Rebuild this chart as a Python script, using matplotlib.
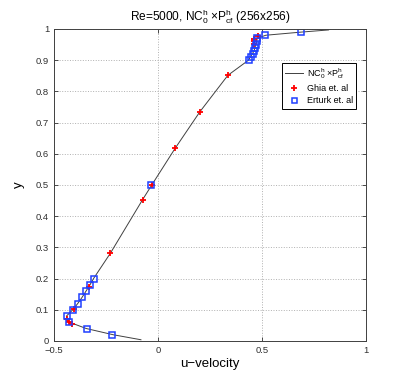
import numpy as np
import matplotlib
matplotlib.use('Agg')
import matplotlib.pyplot as plt

plt.rcParams['font.family'] = ['Liberation Sans', 'DejaVu Sans']
plt.rcParams['mathtext.fontset'] = 'custom'
plt.rcParams['mathtext.rm'] = 'Liberation Sans'
plt.rcParams['mathtext.it'] = 'Liberation Sans'

# present solution (NC0 x Pcf, 256x256)
line_y = [0.004, 0.02, 0.04, 0.06, 0.07, 0.08, 0.10, 0.12, 0.14, 0.16, 0.18, 0.20,
          0.2813, 0.4531, 0.50, 0.6172, 0.7344, 0.8516, 0.90, 0.93, 0.96, 0.97,
          0.98, 0.99, 0.997]
line_u = [-0.082, -0.215, -0.345, -0.425, -0.438, -0.440, -0.410, -0.386, -0.365,
          -0.346, -0.327, -0.310, -0.229, -0.074, -0.030, 0.082, 0.201, 0.336,
          0.435, 0.462, 0.474, 0.477, 0.518, 0.687, 0.82]

# Ghia et al. (Re=5000)
ghia_y = [0.9766, 0.9688, 0.9609, 0.9531, 0.8516, 0.7344, 0.6172, 0.5000, 0.4531,
          0.2813, 0.1719, 0.1016, 0.0703, 0.0625, 0.0547]
ghia_u = [0.48223, 0.46120, 0.45992, 0.46036, 0.33556, 0.20087, 0.08183, -0.03039,
          -0.07404, -0.22855, -0.33050, -0.40435, -0.43643, -0.42901, -0.41165]

# Erturk et al. (Re=5000)
ert_y = [0.99, 0.98, 0.97, 0.96, 0.95, 0.94, 0.93, 0.92, 0.91, 0.90, 0.50,
         0.20, 0.18, 0.16, 0.14, 0.12, 0.10, 0.08, 0.06, 0.04, 0.02]
ert_u = [0.6866, 0.5159, 0.4749, 0.4739, 0.4710, 0.4676, 0.4627, 0.4559, 0.4467,
         0.4351, -0.0319, -0.3096, -0.3255, -0.3441, -0.3642, -0.3857, -0.4103,
         -0.4366, -0.4264, -0.3418, -0.2198]

fig = plt.figure(figsize=(4.07, 3.84), dpi=100)
ax = fig.add_axes([54 / 407, 1 - 341 / 384, 312 / 407, 312 / 384])

ax.plot(line_u, line_y, color='#404040', linewidth=0.7,
        label=r'NC$_0^h$ $\times$P$_{cf}^h$')
ax.plot(ghia_u, ghia_y, linestyle='none', marker='+', color='red',
        markersize=5, markeredgewidth=1.3, label='Ghia et. al')
ax.plot(ert_u, ert_y, linestyle='none', marker='s', markerfacecolor='none',
        markeredgecolor='#1f3fff', markersize=4.5, markeredgewidth=1.1,
        label='Erturk et. al')

ax.set_xlim(-0.5, 1)
ax.set_ylim(0, 1)
ax.set_xticks([-0.5, 0, 0.5, 1])
ax.set_xticklabels(['\u22120.5', '0', '0.5', '1'])
ax.set_yticks(np.arange(0, 1.01, 0.1))
ax.set_yticklabels(['0', '0.1', '0.2', '0.3', '0.4', '0.5', '0.6', '0.7', '0.8', '0.9', '1'])
ax.grid(True, linestyle=':', color='#b0b0b0', linewidth=0.7)
ax.tick_params(direction='in', top=True, right=True, labelsize=6.8, length=3,
               width=0.6, colors='#303030')
for s in ax.spines.values():
    s.set_linewidth(0.7)
    s.set_color('#404040')

ax.set_xlabel('u\u2212velocity', fontsize=9.5, labelpad=2)
ax.set_ylabel('y', fontsize=9.5, labelpad=8)
ax.set_title(r'Re=5000, NC$_0^h$ $\times$P$_{cf}^h$ (256x256)', fontsize=8.6, pad=6)

leg = ax.legend(loc='upper right', bbox_to_anchor=(0.968, 0.891), fontsize=6.5,
                fancybox=False, framealpha=1, edgecolor='black',
                handlelength=2.0, handletextpad=0.4, borderpad=0.35,
                labelspacing=0.35, borderaxespad=0, markerscale=0.8)
leg.get_frame().set_linewidth(0.7)

fig.savefig('out.png', dpi=100, facecolor='white')
